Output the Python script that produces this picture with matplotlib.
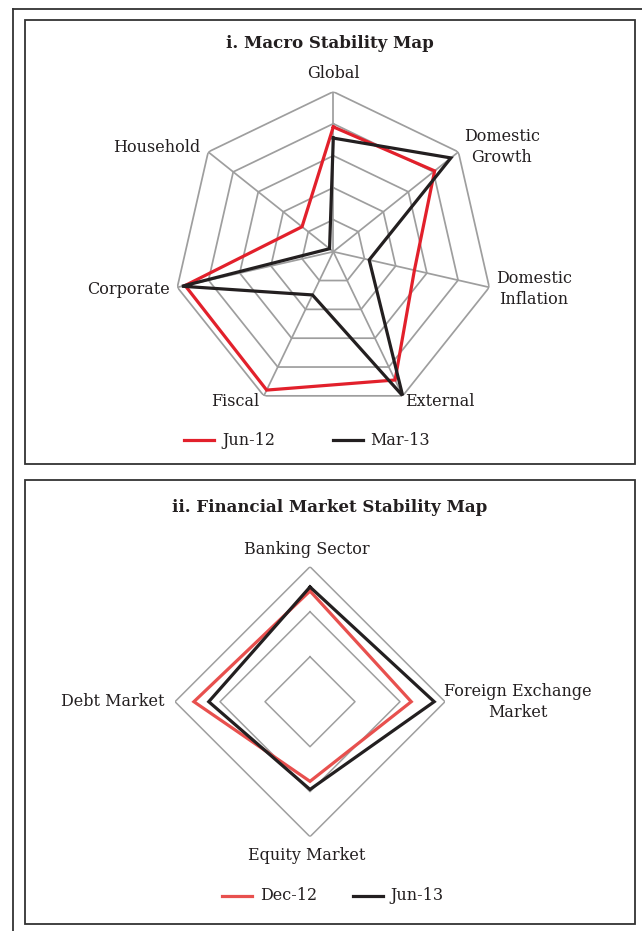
import numpy as np
import matplotlib
matplotlib.use("Agg")
import matplotlib.pyplot as plt
from matplotlib.patches import Rectangle
from matplotlib.lines import Line2D

# ---------------- data ----------------
macro_categories = ["Global", "Domestic\nGrowth", "Domestic\nInflation", "External",
                    "Fiscal", "Corporate", "Household"]
macro_jun12 = [0.78, 0.81, 0.52, 0.89, 0.96, 0.95, 0.25]
macro_mar13 = [0.71, 0.94, 0.23, 1.00, 0.30, 0.97, 0.03]
macro_rings = [0.2, 0.4, 0.6, 0.8, 1.0]

fin_categories = ["Banking Sector", "Foreign Exchange\nMarket", "Equity Market", "Debt Market"]
fin_dec12 = [0.82, 0.75, 0.59, 0.86]
fin_jun13 = [0.85, 0.92, 0.65, 0.75]
fin_rings = [1/3, 2/3, 1.0]

W, H = 642, 931
DPI = 100
fig = plt.figure(figsize=(W / DPI, H / DPI), dpi=DPI)
fig.patch.set_facecolor("white")

FONT = "DejaVu Serif"
TXT = "#231F20"
GRID = "#9E9E9E"
RED1 = "#E2202B"
RED2 = "#E8504E"
BLK = "#231F20"


def px(x, y):
    return x / W, 1 - y / H


def ftext(x, y, s, **kw):
    kw.setdefault("fontsize", 11.5)
    kw.setdefault("family", FONT)
    kw.setdefault("color", TXT)
    kw.setdefault("ha", "center")
    kw.setdefault("va", "center")
    fig.text(*px(x, y), s, **kw)


# ---------- frames ----------
def frame(x0, y0, x1, y1, lw=1.3):
    fx0, fy1 = px(x0, y0)
    fx1, fy0 = px(x1, y1)
    fig.add_artist(Rectangle((fx0, fy0), fx1 - fx0, fy1 - fy0, transform=fig.transFigure,
                             fill=False, edgecolor="#333333", lw=lw))

# outer frame (left and top lines)
fig.add_artist(Line2D([13 / W, 13 / W], [0, 1 - 9 / H], transform=fig.transFigure,
                      color="#333333", lw=1.3))
fig.add_artist(Line2D([13 / W, 1], [1 - 9 / H, 1 - 9 / H], transform=fig.transFigure,
                      color="#333333", lw=1.3))
frame(25, 20, 635, 464)
frame(25, 480, 635, 924)


def make_polar(cx, cy, R):
    l = (cx - R) / W
    b = 1 - (cy + R) / H
    ax = fig.add_axes([l, b, 2 * R / W, 2 * R / H], projection="polar")
    ax.set_theta_zero_location("N")
    ax.set_theta_direction(-1)
    ax.set_ylim(0, 1)
    ax.axis("off")
    return ax


def closed(vals, n):
    th = np.linspace(0, 2 * np.pi, n, endpoint=False)
    return np.append(th, th[0]), np.append(vals, vals[0])


# ---------------- panel i ----------------
n1 = len(macro_categories)
ax1 = make_polar(333.3, 251.7, 160)
th1 = np.linspace(0, 2 * np.pi, n1, endpoint=False)
for r in macro_rings:
    t, rr = closed(np.full(n1, r), n1)
    ax1.plot(t, rr, color=GRID, lw=1.25, zorder=1)
for t in th1:
    ax1.plot([t, t], [0, 1], color=GRID, lw=1.25, zorder=1)
t, v = closed(np.array(macro_jun12), n1)
ax1.plot(t, v, color=RED1, lw=2.3, zorder=3, solid_joinstyle="miter")
t, v = closed(np.array(macro_mar13), n1)
ax1.plot(t, v, color=BLK, lw=2.3, zorder=4, solid_joinstyle="miter")

ftext(330, 43, "i. Macro Stability Map", fontsize=12, fontweight="bold")
label_pos1 = [(333, 73), (502, 147), (534, 289), (440, 402), (235, 402), (128, 289), (157, 148)]
for (x, y), s in zip(label_pos1, macro_categories):
    ftext(x, y, s, linespacing=1.25)

fig.add_artist(Line2D([184 / W, 214 / W], [1 - 440 / H] * 2, transform=fig.transFigure,
                      color=RED1, lw=2.3))
ftext(222, 440, "Jun-12", ha="left")
fig.add_artist(Line2D([333 / W, 363 / W], [1 - 440 / H] * 2, transform=fig.transFigure,
                      color=BLK, lw=2.3))
ftext(370, 440, "Mar-13", ha="left")

# ---------------- panel ii ----------------
n2 = len(fin_categories)
ax2 = make_polar(310, 701.7, 135)
for r in fin_rings:
    t, rr = closed(np.full(n2, r), n2)
    ax2.plot(t, rr, color=GRID, lw=1.1, zorder=1)
t, v = closed(np.array(fin_dec12), n2)
ax2.plot(t, v, color=RED2, lw=2.3, zorder=3, solid_joinstyle="miter")
t, v = closed(np.array(fin_jun13), n2)
ax2.plot(t, v, color=BLK, lw=2.3, zorder=4, solid_joinstyle="miter")

ftext(330, 507, "ii. Financial Market Stability Map", fontsize=12, fontweight="bold")
label_pos2 = [(307, 549), (518, 702), (307, 856), (113, 702)]
for (x, y), s in zip(label_pos2, fin_categories):
    ftext(x, y, s, linespacing=1.25)

fig.add_artist(Line2D([222 / W, 252 / W], [1 - 896 / H] * 2, transform=fig.transFigure,
                      color=RED2, lw=2.3))
ftext(260, 896, "Dec-12", ha="left")
fig.add_artist(Line2D([353 / W, 383 / W], [1 - 896 / H] * 2, transform=fig.transFigure,
                      color=BLK, lw=2.3))
ftext(390, 896, "Jun-13", ha="left")

fig.savefig("out.png", dpi=DPI, facecolor="white")
